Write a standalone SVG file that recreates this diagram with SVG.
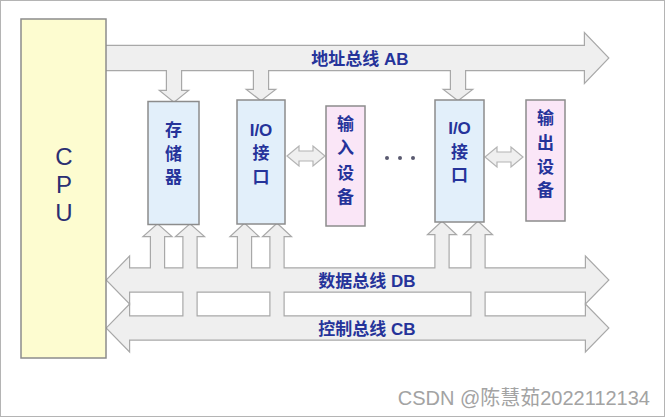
<svg xmlns="http://www.w3.org/2000/svg" xmlns:xlink="http://www.w3.org/1999/xlink" width="665" height="417" viewBox="0 0 665 417">
<style>
.bg{fill:#ffffff;stroke:#b4b4b4;stroke-width:1}
.ol{fill:#a8a8a8;stroke:#a8a8a8;stroke-width:2.4;stroke-linejoin:miter}
.fl{fill:#efefef;stroke:none}
.dbl{fill:#efefef;stroke:#b4b4b4;stroke-width:1.2}
.box{stroke:#8c8c8c;stroke-width:1.5}
.cpu{fill:#fdfcd0}
.blue{fill:#e2effa}
.pink{fill:#fae6f7}
.t{font-family:"Liberation Sans","Noto Sans CJK SC",sans-serif;fill:#25339a;text-anchor:middle;dominant-baseline:central}
.bl{font-size:17px;font-weight:bold}
.bx{font-size:17px;font-weight:bold}
.cp{font-size:24px;fill:#2b2f72}
.wm{font-family:"Liberation Sans","Noto Sans CJK SC",sans-serif;font-size:20px;fill:#a3a3a3;text-anchor:end}
</style>
<defs>
<polygon id="ab" points="100,46 585,46 585,34 608,58 585,82 585,70 100,70"/>
<polygon id="dn1" points="167,65 181,65 181,91 187,91 174,101.5 161,91 167,91"/>
<polygon id="dn2" points="254,65 268,65 268,90 274,90 261,100 248,90 254,90"/>
<polygon id="dn3" points="451,65 465,65 465,90 471,90 458,100 445,90 451,90"/>
<polygon id="db" points="107,280 129,257.5 129,268.5 586,268.5 586,257.5 608,280 586,302.5 586,291.5 129,291.5 129,302.5"/>
<polygon id="cb" points="107,328 129,305.5 129,316.5 586,316.5 586,305.5 608,328 586,350.5 586,339.5 129,339.5 129,350.5"/>
<polygon id="u1" points="151,272 151,236 144.5,236 157.5,224.5 170.5,236 164,236 164,272"/>
<polygon id="u2" points="183.5,320 183.5,236 177,236 190,224.5 203,236 196.5,236 196.5,320"/>
<polygon id="u3" points="238,272 238,236 231.5,236 244.5,224 257.5,236 251,236 251,272"/>
<polygon id="u4" points="270.5,320 270.5,236 264,236 277,224 290,236 283.5,236 283.5,320"/>
<polygon id="u5" points="435.5,272 435.5,234 429,234 442,222 455,234 448.5,234 448.5,272"/>
<polygon id="u6" points="471.5,320 471.5,234 465,234 478,222 491,234 484.5,234 484.5,320"/>
</defs>
<rect class="bg" x="0.5" y="0.5" width="664" height="416"/>
<g id="connectors">
<g id="bus-outline" class="ol">
<use xlink:href="#ab"/><use xlink:href="#dn1"/><use xlink:href="#dn2"/><use xlink:href="#dn3"/>
<use xlink:href="#db"/><use xlink:href="#cb"/>
<use xlink:href="#u1"/><use xlink:href="#u2"/><use xlink:href="#u3"/><use xlink:href="#u4"/><use xlink:href="#u5"/><use xlink:href="#u6"/>
</g>
<g id="bus-fill" class="fl">
<use xlink:href="#ab"/><use xlink:href="#dn1"/><use xlink:href="#dn2"/><use xlink:href="#dn3"/>
<use xlink:href="#db"/><use xlink:href="#cb"/>
<use xlink:href="#u1"/><use xlink:href="#u2"/><use xlink:href="#u3"/><use xlink:href="#u4"/><use xlink:href="#u5"/><use xlink:href="#u6"/>
</g>
<polygon class="dbl" points="287,156 299,146 299,151 313,151 313,146 325,156 313,166 313,161 299,161 299,166"/>
<polygon class="dbl" points="485,157 497,147 497,152 511,152 511,147 523,157 511,167 511,162 497,162 497,167"/>
<text class="t bl" x="360" y="59">地址总线 AB</text>
<text class="t bl" x="367" y="281">数据总线 DB</text>
<text class="t bl" x="367" y="329.5">控制总线 CB</text>
</g>
<g id="cpu">
<rect class="box cpu" x="21" y="19" width="85" height="339"/>
<text class="t cp" x="64" y="156">C</text>
<text class="t cp" x="64" y="184">P</text>
<text class="t cp" x="64" y="212">U</text>
</g>
<g id="memory">
<rect class="box blue" x="148" y="101.5" width="51" height="123"/>
<text class="t bx" x="173.5" y="130">存</text>
<text class="t bx" x="173.5" y="154">储</text>
<text class="t bx" x="173.5" y="177">器</text>
</g>
<g id="io1">
<rect class="box blue" x="237" y="100" width="48" height="124"/>
<text class="t bx" x="261" y="130">I/O</text>
<text class="t bx" x="261" y="153">接</text>
<text class="t bx" x="261" y="177">口</text>
</g>
<g id="input">
<rect class="box pink" x="326" y="106" width="39" height="120"/>
<text class="t bx" x="345.5" y="124">输</text>
<text class="t bx" x="345.5" y="148">入</text>
<text class="t bx" x="345.5" y="173">设</text>
<text class="t bx" x="345.5" y="197">备</text>
</g>
<g id="dots" fill="#5a5a70">
<circle cx="387" cy="158" r="2"/>
<circle cx="400" cy="158" r="2"/>
<circle cx="413" cy="158" r="2"/>
</g>
<g id="io2">
<rect class="box blue" x="435" y="100" width="49" height="122"/>
<text class="t bx" x="459.5" y="128">I/O</text>
<text class="t bx" x="459.5" y="152">接</text>
<text class="t bx" x="459.5" y="175">口</text>
</g>
<g id="output">
<rect class="box pink" x="526" y="100" width="39" height="121"/>
<text class="t bx" x="545.5" y="118">输</text>
<text class="t bx" x="545.5" y="143">出</text>
<text class="t bx" x="545.5" y="167">设</text>
<text class="t bx" x="545.5" y="190">备</text>
</g>
<text class="wm" x="650" y="405">CSDN @陈慧茹2022112134</text>
</svg>
